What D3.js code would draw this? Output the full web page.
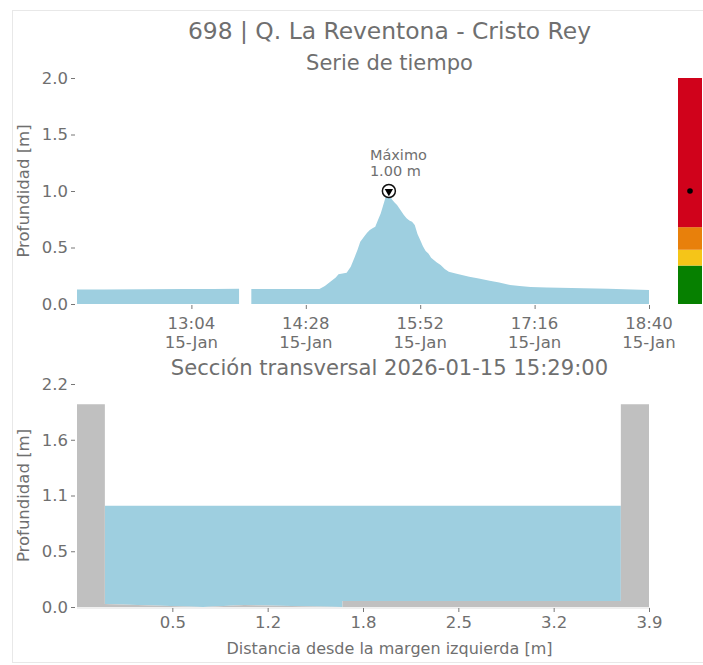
<!DOCTYPE html>
<html><head><meta charset="utf-8">
<script src="https://cdn.jsdelivr.net/npm/d3@7"></script>
<style>
html,body{margin:0;padding:0;background:#fff;}
svg text{font-family:"DejaVu Sans",sans-serif;fill:#6f6f6f;}
</style></head>
<body><svg id="c" width="703" height="665"></svg>
<script>
// ---------- DATA ----------
const title = "698 | Q. La Reventona - Cristo Rey";
const subtitleTop = "Serie de tiempo";
const subtitleBottom = "Sección transversal 2026-01-15 15:29:00";
const day = "2026-01-15";
// time series (gap between segments marked with null)
const seriesTimes = ["11:40","12:00","12:30","13:00","13:20","13:39",null,
  "13:48","14:10","14:38","14:42","14:46","14:50","14:52","14:58","15:01","15:04","15:06","15:08","15:11","15:13","15:15","15:17","15:19","15:21","15:23","15:25","15:27","15:29",
  "15:31","15:33","15:35","15:37","15:40","15:42","15:44","15:46","15:48","15:50","15:52","15:54","15:56","15:58","16:00","16:04","16:07","16:10","16:13","16:18","16:28","16:35","16:43","16:50","16:58","17:05","17:13","17:25","17:43","18:10","18:40"];
const seriesValues = [0.128,0.129,0.131,0.132,0.133,0.134,null,
  0.133,0.133,0.133,0.16,0.197,0.235,0.263,0.277,0.33,0.419,0.48,0.55,0.60,0.63,0.655,0.67,0.684,0.743,0.80,0.88,0.96,1.00,
  0.93,0.90,0.876,0.84,0.788,0.758,0.74,0.728,0.70,0.62,0.566,0.51,0.47,0.448,0.41,0.37,0.345,0.31,0.286,0.27,0.242,0.225,0.206,0.19,0.168,0.16,0.150,0.147,0.142,0.135,0.125];
const maxValue = 1.00;
const maxTime = "15:29";
const topXTicks = ["13:04","14:28","15:52","17:16","18:40"];
const topXTickDate = "15-Jan";
const topYTicks = [0, 0.5, 1.0, 1.5, 2.0];
const topYTickLabels = ["0.0","0.5","1.0","1.5","2.0"];
// alert levels (colour bar)
const levelBounds = [0, 0.34, 0.48, 0.68, 2.0];
const levelColors = ["#068000", "#f5c518", "#e8800b", "#d0021b"];
// cross section
const groundX = [0, 0.19, 0.19, 0.86, 1.14, 1.81, 1.81, 3.708, 3.708, 3.9];
const groundY = [2.0, 2.0, 0.03, 0.0, 0.02, 0.0, 0.06, 0.06, 2.0, 2.0];
const waterLevel = 1.00;
const waterStartIdx = 2, waterEndIdx = 7;
const botXTicks = [0.65, 1.3, 1.95, 2.6, 3.25, 3.9];
const botXTickLabels = ["0.5","1.2","1.8","2.5","3.2","3.9"];
const botYTicks = [0, 0.55, 1.1, 1.65, 2.2];
const botYTickLabels = ["0.0","0.5","1.1","1.6","2.2"];

// ---------- DRAW ----------
const svg = d3.select("#c");
const parse = t => t === null ? null : d3.timeParse("%Y-%m-%d %H:%M")(day + " " + t);
const C_AREA = "#9ecfe0", C_GRAY = "#c0c0c0", C_TXT = "#6f6f6f";

// frame
svg.append("rect").attr("x",12.5).attr("y",10.5).attr("width",700).attr("height",652)
  .attr("fill","none").attr("stroke","#e8e8e8");

// titles
svg.append("text").attr("x",389.5).attr("y",39).attr("text-anchor","middle").attr("font-size",23.4).text(title);
svg.append("text").attr("x",389.5).attr("y",70).attr("text-anchor","middle").attr("font-size",21).text(subtitleTop);
svg.append("text").attr("x",389.5).attr("y",375).attr("text-anchor","middle").attr("font-size",21.1).text(subtitleBottom);

// --- top chart ---
const xT = d3.scaleTime().domain([parse("11:40"), parse("18:40")]).range([77, 649]);
const yT = d3.scaleLinear().domain([0, 2]).range([304, 78]);
const pts = seriesTimes.map((t,i)=>({t:parse(t), v:seriesValues[i]}));
const area = d3.area().defined(d=>d.t!==null && d.v!==null)
  .x(d=>xT(d.t)).y0(yT(0)).y1(d=>yT(d.v));
svg.append("path").datum(pts).attr("d", area).attr("fill", C_AREA);

svg.append("g").attr("transform","translate(75,0)")
  .call(d3.axisLeft(yT).tickValues(topYTicks).tickFormat((d,i)=>topYTickLabels[i]).tickSize(4).tickPadding(3));
svg.append("g").attr("transform","translate(0,305)")
  .call(d3.axisBottom(xT).tickValues(topXTicks.map(parse)).tickFormat("").tickSize(4));
topXTicks.forEach(t=>{
  const g = svg.append("g").attr("transform",`translate(${xT(parse(t))},0)`);
  g.append("text").attr("y",329).attr("text-anchor","middle").attr("font-size",16.5).text(t);
  g.append("text").attr("y",348).attr("text-anchor","middle").attr("font-size",16.5).text(topXTickDate);
});
svg.append("text").attr("transform",`translate(29,${(78+304)/2}) rotate(-90)`)
  .attr("text-anchor","middle").attr("font-size",16.5).text("Profundidad [m]");

// max marker
const mx = xT(parse(maxTime)), my = yT(maxValue);
svg.append("circle").attr("cx",mx).attr("cy",my).attr("r",6.5).attr("fill","#fff").attr("stroke","#111").attr("stroke-width",1.5);
svg.append("path").attr("d", d3.symbol().type(d3.symbolTriangle).size(30)())
  .attr("transform",`translate(${mx},${my+0.5}) rotate(180)`).attr("fill","#000");
svg.append("text").attr("x",mx-19).attr("y",160).attr("font-size",14.5).text("Máximo");
svg.append("text").attr("x",mx-19).attr("y",176).attr("font-size",14.5).text(maxValue.toFixed(2)+" m");

// colour bar
for (let i=0;i<levelColors.length;i++){
  svg.append("rect").attr("x",678).attr("width",24)
    .attr("y",yT(levelBounds[i+1])).attr("height",yT(levelBounds[i])-yT(levelBounds[i+1]))
    .attr("fill",levelColors[i]);
}
svg.append("circle").attr("cx",690).attr("cy",yT(maxValue)).attr("r",2.8).attr("fill","#000");

// --- bottom chart ---
const xB = d3.scaleLinear().domain([0, 3.9]).range([77, 649]);
const yB = d3.scaleLinear().domain([0, 2.2]).range([607, 384]);
const gpts = groundX.map((x,i)=>({x, y:groundY[i]}));
const wpts = gpts.slice(waterStartIdx, waterEndIdx+1);
svg.append("path").datum(wpts)
  .attr("d", d3.area().x(d=>xB(d.x)).y0(d=>yB(d.y)).y1(yB(waterLevel)))
  .attr("fill", C_AREA);
svg.append("path").datum(gpts)
  .attr("d", d3.area().x(d=>xB(d.x)).y0(yB(0)).y1(d=>yB(d.y)))
  .attr("fill", C_GRAY);
svg.append("line").attr("x1",77).attr("x2",650).attr("y1",608).attr("y2",608).attr("stroke","#e0e0e0");

svg.append("g").attr("transform","translate(75,0)")
  .call(d3.axisLeft(yB).tickValues(botYTicks).tickFormat((d,i)=>botYTickLabels[i]).tickSize(4).tickPadding(3));
svg.append("g").attr("transform","translate(0,608)")
  .call(d3.axisBottom(xB).tickValues(botXTicks).tickFormat((d,i)=>botXTickLabels[i]).tickSize(4).tickPadding(4));
svg.append("text").attr("x",389.5).attr("y",654).attr("text-anchor","middle").attr("font-size",16)
  .text("Distancia desde la margen izquierda [m]");
svg.append("text").attr("transform",`translate(29,${(384+607)/2}) rotate(-90)`)
  .attr("text-anchor","middle").attr("font-size",16.5).text("Profundidad [m]");

// axis styling
svg.selectAll(".domain").remove();
svg.selectAll(".tick line").attr("stroke","#777");
svg.selectAll(".tick text").attr("font-size",16.5).attr("fill",C_TXT).attr("font-family","DejaVu Sans");
</script></body></html>
